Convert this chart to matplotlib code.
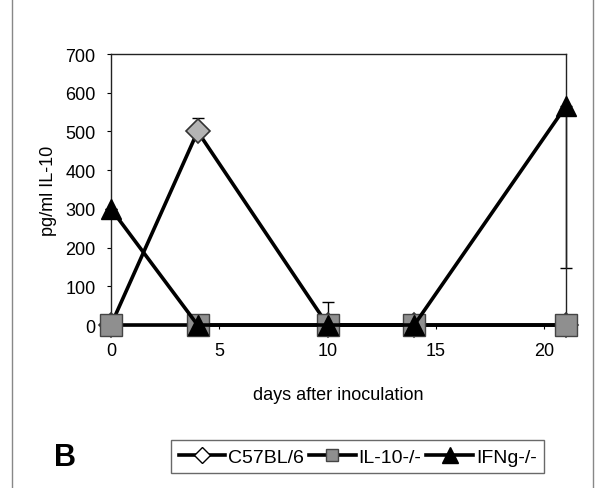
import matplotlib
matplotlib.use("Agg")
import matplotlib.pyplot as plt
from matplotlib.lines import Line2D

plt.rcParams['font.family'] = ['Liberation Sans', 'DejaVu Sans']

# data
days = [0, 4, 10, 14, 21]
c57 = [0, 500, 0, 0, 0]
c57_err_up = [0, 35, 60, 0, 0]
il10 = [0, 0, 0, 0, 0]
ifng = [300, 0, 0, 0, 565]
ifng_err_down = [0, 0, 0, 0, 417]

x_ticks = [0, 5, 10, 15, 20]
y_ticks = [0, 100, 200, 300, 400, 500, 600, 700]
labels = ["C57BL/6", "IL-10-/-", "IFNg-/-"]

fig = plt.figure(figsize=(6, 4.89), dpi=100)
ax = fig.add_axes([0.185, 0.3333, 0.758, 0.5542])

lw = 2.6
# C57BL/6 with upper error bars
ax.errorbar(days, c57, yerr=[[0] * len(days), c57_err_up], fmt='none',
            ecolor='black', elinewidth=1, capsize=4, capthick=1, zorder=2, clip_on=False)
ax.plot(days, c57, color='black', lw=lw, marker='D', markersize=12,
        markerfacecolor='#b4b4b4', markeredgecolor='#333333', markeredgewidth=1.2,
        zorder=3, clip_on=False)
# IL-10-/-
ax.plot(days, il10, color='black', lw=lw, marker='s', markersize=16,
        markerfacecolor='#8f8f8f', markeredgecolor='#444444', markeredgewidth=1,
        zorder=4, clip_on=False)
# IFNg-/- with lower error bar
ax.errorbar(days, ifng, yerr=[ifng_err_down, [0] * len(days)], fmt='none',
            ecolor='black', elinewidth=1, capsize=4, capthick=1, zorder=2, clip_on=False)
ax.plot(days, ifng, color='black', lw=lw, marker='^', markersize=15,
        markerfacecolor='black', markeredgecolor='black',
        zorder=5, clip_on=False)

ax.set_xlim(0, 21)
ax.set_ylim(0, 700)
ax.set_xticks(x_ticks)
ax.set_yticks(y_ticks)
ax.tick_params(direction='out', length=3, width=0.8, labelsize=13)
ax.tick_params(axis='x', pad=9)
ax.tick_params(axis='y', pad=8)
for s in ax.spines.values():
    s.set_linewidth(1)
    s.set_color('#222222')

ax.set_xlabel("days after inoculation", fontsize=13, labelpad=20)
ax.set_ylabel("pg/ml IL-10", fontsize=13)
ax.yaxis.set_label_coords(-0.118, 0.5)

handles = [
    Line2D([], [], color='black', lw=lw, marker='D', markersize=8,
           markerfacecolor='white', markeredgecolor='black'),
    Line2D([], [], color='black', lw=lw, marker='s', markersize=9,
           markerfacecolor='#8f8f8f', markeredgecolor='#444444'),
    Line2D([], [], color='black', lw=lw, marker='^', markersize=11,
           markerfacecolor='black', markeredgecolor='black'),
]
leg = fig.legend(handles, labels, loc='center', bbox_to_anchor=(0.596, 0.064),
                 ncol=3, fontsize=14, frameon=True, fancybox=False,
                 handlelength=2.4, handletextpad=0.15, columnspacing=0.25,
                 borderpad=0.4)
leg.get_frame().set_edgecolor('#444444')
leg.get_frame().set_linewidth(1)

fig.text(0.09, 0.064, "B", fontsize=22, fontweight='bold', va='center', ha='left')

# outer panel frame
fig.add_artist(Line2D([0.02, 0.02], [0, 1], color='#888888', lw=1, transform=fig.transFigure))
fig.add_artist(Line2D([0.988, 0.988], [0, 1], color='#888888', lw=1, transform=fig.transFigure))

fig.savefig("out.png", dpi=100)
